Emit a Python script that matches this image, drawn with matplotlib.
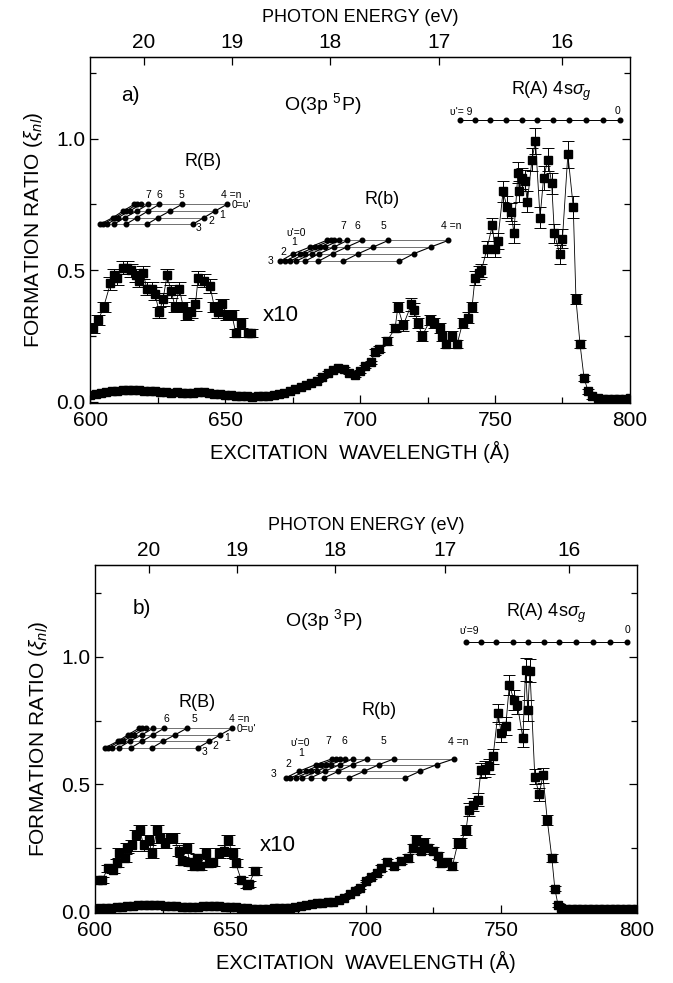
import numpy as np
import matplotlib.pyplot as plt

plt.rcParams['font.family'] = ['Liberation Sans', 'DejaVu Sans']
plt.rcParams['mathtext.fontset'] = 'custom'
plt.rcParams['mathtext.rm'] = 'Liberation Sans'
plt.rcParams['mathtext.it'] = 'Liberation Sans:italic'

HC = 12398.4  # eV*Angstrom

# ---------------- panel a) O(3p 5P) ----------------
wl_a = [600, 602, 604, 606, 608, 610, 612, 614, 616, 618, 620, 622, 624, 626, 628,
        630, 632, 634, 636, 638, 640, 642, 644, 646, 648, 650, 652, 654, 656, 658,
        660, 662, 664, 666, 668, 670, 672, 674, 676, 678, 680, 682, 684, 686, 688,
        690, 692, 694, 696, 698, 700, 702, 704,
        705.6, 707, 710, 713, 714, 716, 719, 720, 721.5, 723, 726, 727.5, 729.6, 730.5,
        732, 734, 736, 738, 740, 741.5, 742.6, 744, 745, 747, 749, 750, 751, 753,
        754.4, 756, 757, 758.5, 759, 760, 761, 762, 763.7, 765, 766.7, 768, 769.6,
        771, 772, 774, 775, 777, 779, 780, 781.5, 783, 784.5, 786, 788, 790, 792,
        794, 796, 798, 800]
ratio_a = [0.024, 0.03, 0.033, 0.036, 0.04, 0.042, 0.045, 0.046, 0.045, 0.044, 0.042,
           0.04, 0.04, 0.038, 0.036, 0.035, 0.036, 0.034, 0.032, 0.035, 0.038, 0.036,
           0.033, 0.03, 0.028, 0.026, 0.024, 0.022, 0.02, 0.02, 0.019, 0.02, 0.021,
           0.023, 0.026, 0.03, 0.034, 0.04, 0.047, 0.055, 0.062, 0.07, 0.08, 0.095,
           0.11, 0.12, 0.128, 0.125, 0.11, 0.10, 0.115, 0.135, 0.15,
           0.19, 0.20, 0.23, 0.28, 0.36, 0.29, 0.37, 0.35, 0.30, 0.25, 0.31, 0.30, 0.28,
           0.25, 0.22, 0.25, 0.22, 0.30, 0.32, 0.36, 0.47, 0.49, 0.50, 0.58, 0.67, 0.58,
           0.61, 0.80, 0.74, 0.72, 0.64, 0.87, 0.80, 0.85, 0.84, 0.76, 0.92, 0.99, 0.70,
           0.85, 0.92, 0.83, 0.64, 0.56, 0.62, 0.94, 0.74, 0.39, 0.22, 0.09, 0.04, 0.02,
           0.015, 0.012, 0.01, 0.01, 0.01, 0.012, 0.015]
err_a = [0.006] * 53 + [
         0.012, 0.012, 0.015, 0.015, 0.02, 0.02, 0.025, 0.025, 0.02, 0.02, 0.02, 0.02,
         0.02, 0.02, 0.015, 0.02, 0.015, 0.02, 0.02, 0.02, 0.025, 0.025, 0.025, 0.03,
         0.03, 0.03, 0.03, 0.04, 0.04, 0.035, 0.035, 0.04, 0.04, 0.04, 0.04, 0.04,
         0.045, 0.05, 0.04, 0.045, 0.045, 0.04, 0.035, 0.035, 0.035, 0.05, 0.04, 0.02,
         0.015, 0.01, 0.01, 0.008, 0.006, 0.006, 0.006, 0.006, 0.006, 0.006, 0.006]

wl10_a = [601, 603, 605, 607.5, 609, 610, 612, 613.5, 615, 617, 618, 619.6, 621, 623,
          624, 625.6, 627, 628.5, 630, 631.5, 633, 634.5, 636, 637.5, 639, 640, 642,
          644.4, 646, 647.5, 649, 650.6, 652.5, 654, 656, 658.5, 659.5]
ratio10_a = [0.28, 0.31, 0.36, 0.45, 0.48, 0.47, 0.51, 0.51, 0.50, 0.48, 0.46, 0.49,
             0.43, 0.43, 0.41, 0.34, 0.39, 0.48, 0.42, 0.36, 0.43, 0.36, 0.33, 0.34,
             0.37, 0.47, 0.46, 0.44, 0.36, 0.34, 0.37, 0.33, 0.33, 0.26, 0.30, 0.26, 0.26]
err10_a = [0.02, 0.02, 0.02, 0.025, 0.025, 0.025, 0.025, 0.025, 0.025, 0.025, 0.025,
           0.025, 0.025, 0.025, 0.025, 0.02, 0.025, 0.025, 0.025, 0.02, 0.025, 0.02,
           0.02, 0.02, 0.025, 0.025, 0.025, 0.025, 0.02, 0.02, 0.02, 0.02, 0.02, 0.015,
           0.02, 0.015, 0.015]

# ---------------- panel b) O(3p 3P) ----------------
wl_b = [600, 602, 604, 606, 608, 610, 612, 614, 616, 618, 620, 622, 624, 626, 628,
        630, 632, 634, 636, 638, 640, 642, 644, 646, 648, 650, 652, 654, 656, 658,
        660, 662, 664, 666, 668, 670, 672, 674, 676, 678, 680, 682, 684, 686, 688,
        690, 692, 694, 696, 698, 700, 702, 704,
        705.7, 708, 710.5, 713, 715.6, 717.5, 718.6, 720.4, 721.5, 723, 725, 726.7,
        727.8, 730, 732, 734, 735, 737, 738, 739.5, 741.4, 742.5, 744, 745.5, 747,
        748.8, 750, 751.7, 753, 754.7, 756, 758, 759, 759.8, 760.6, 762.4, 764, 765.4,
        767, 768.7, 769.8, 771, 772, 774, 776, 778, 780, 782, 784, 786, 788, 790, 792,
        794, 796, 798, 800]
ratio_b = [0.012, 0.013, 0.015, 0.016, 0.018, 0.02, 0.022, 0.024, 0.025, 0.026, 0.026,
           0.026, 0.025, 0.024, 0.022, 0.021, 0.02, 0.02, 0.02, 0.02, 0.021, 0.022,
           0.022, 0.021, 0.02, 0.019, 0.017, 0.015, 0.013, 0.012, 0.012, 0.012, 0.012,
           0.013, 0.013, 0.014, 0.016, 0.019, 0.022, 0.026, 0.03, 0.033, 0.035, 0.038,
           0.04, 0.045, 0.055, 0.07, 0.08, 0.095, 0.12, 0.135, 0.15,
           0.17, 0.195, 0.18, 0.20, 0.21, 0.25, 0.28, 0.24, 0.27, 0.25, 0.24, 0.22, 0.19,
           0.195, 0.18, 0.27, 0.27, 0.32, 0.40, 0.42, 0.44, 0.555, 0.56, 0.57, 0.61,
           0.78, 0.70, 0.73, 0.89, 0.83, 0.81, 0.68, 0.95, 0.79, 0.945, 0.53, 0.46,
           0.535, 0.36, 0.21, 0.09, 0.025, 0.015, 0.012, 0.011, 0.01, 0.01, 0.01, 0.01,
           0.01, 0.01, 0.01, 0.01, 0.01, 0.01, 0.01, 0.01]
err_b = [0.005] * 53 + [
         0.012, 0.012, 0.012, 0.012, 0.015, 0.015, 0.02, 0.015, 0.02, 0.015, 0.015,
         0.015, 0.015, 0.015, 0.015, 0.02, 0.02, 0.02, 0.025, 0.025, 0.025, 0.03, 0.03,
         0.03, 0.03, 0.035, 0.035, 0.035, 0.04, 0.04, 0.035, 0.035, 0.045, 0.04, 0.045,
         0.03, 0.025, 0.03, 0.02, 0.015, 0.01, 0.008, 0.006, 0.005, 0.005, 0.005, 0.005,
         0.005, 0.005, 0.005, 0.005, 0.005, 0.005, 0.005, 0.005, 0.005, 0.005]

wl10_b = [601, 602.5, 605, 606.5, 608, 609, 611, 612, 613.6, 615, 616.6, 618, 620, 621,
          623, 624, 626, 627.6, 629, 631, 632, 634, 635, 636.5, 637.6, 638.7, 641, 642,
          643.5, 645.7, 647.5, 649, 651, 652, 654, 656, 657, 659]
ratio10_b = [0.125, 0.125, 0.17, 0.165, 0.19, 0.23, 0.21, 0.25, 0.26, 0.30, 0.32,
             0.26, 0.28, 0.23, 0.32, 0.29, 0.27, 0.29, 0.29, 0.24, 0.20, 0.25, 0.195,
             0.18, 0.21, 0.18, 0.23, 0.19, 0.195, 0.23, 0.24, 0.28, 0.23, 0.19, 0.125,
             0.105, 0.11, 0.16]
err10_b = [0.012, 0.012, 0.015, 0.015, 0.015, 0.02, 0.015, 0.02, 0.02, 0.02, 0.02,
           0.02, 0.02, 0.02, 0.02, 0.02, 0.02, 0.02, 0.02, 0.02, 0.015, 0.02, 0.015,
           0.015, 0.015, 0.015, 0.02, 0.015, 0.015, 0.02, 0.02, 0.02, 0.02, 0.015,
           0.012, 0.012, 0.012, 0.015]

# ---------------- Rydberg ladders (wavelengths, A) ----------------
# R(B): rows v'=0..3, dots n=4,5,6,7,... (converging)
rb_B = [[650.7, 634.0, 625.6, 621.5, 618.9, 617.4, 616.3],
        [646.3, 629.6, 621.5, 617.4, 614.6, 613.3, 612.2],
        [642.2, 625.2, 617.4, 612.9, 610.4, 609.3, 608.5],
        [638.1, 621.1, 613.3, 608.9, 606.3, 604.8, 603.7]]
# R(b)
rb_b = [[732.7, 710.5, 700.6, 695.3, 692.3, 690.4, 689.1, 687.6],
        [726.2, 704.9, 695.1, 690.4, 687.0, 685.2, 683.3, 681.5],
        [720.0, 699.4, 689.9, 684.9, 682.1, 679.6, 677.8, 675.3],
        [714.6, 693.8, 684.6, 679.6, 676.3, 674.1, 672.2, 670.4]]
# R(A) 4s sigma_g, v'=9 ... 0
rb_A = [737.0, 742.7, 748.2, 754.2, 760.0, 765.7, 771.5, 777.6, 783.9, 790.0, 796.5]

LBL = 7.5  # ladder label size


def ladder(ax, rows, ys):
    for row, y in zip(rows, ys):
        ax.plot(row, [y] * len(row), '-', color='0.35', lw=0.6)
        ax.plot(row, [y] * len(row), 'o', color='k', ms=3.3)
    for j in range(len(rows[0])):
        ax.plot([r[j] for r in rows], ys, '-', color='k', lw=0.8)


def panel(ax, wl, r, e, wl10, r10, e10, ylim):
    ax.plot(wl, r, '-', color='k', lw=0.6)
    ax.errorbar(wl, r, yerr=e, fmt='s', color='k', ms=5.5, ecolor='k',
                elinewidth=0.7, capsize=4, capthick=0.7)
    ax.plot(wl10, r10, '-', color='k', lw=0.6)
    ax.errorbar(wl10, r10, yerr=e10, fmt='s', color='k', ms=6, ecolor='k',
                elinewidth=0.7, capsize=5, capthick=0.7)
    ax.set_xlim(600, 800)
    ax.set_ylim(*ylim)
    ax.set_xticks([600, 650, 700, 750, 800])
    ax.set_xticks([625, 675, 725, 775], minor=True)
    ax.set_yticks([0.0, 0.5, 1.0])
    ax.set_yticks([0.25, 0.75, 1.25], minor=True)
    ax.set_yticklabels(['0.0', '0.5', '1.0'])
    ax.tick_params(which='both', direction='in', right=True, labelsize=15)
    ax.tick_params(which='major', length=6, width=0.9)
    ax.tick_params(which='minor', length=4, width=0.9)
    ax.tick_params(axis='x', pad=5.5)
    ax.set_xlabel('EXCITATION  WAVELENGTH (Å)', fontsize=14.5, labelpad=8)
    ax.set_ylabel(r'FORMATION RATIO ($\xi_{nl}$)', fontsize=15, labelpad=8)
    top = ax.secondary_xaxis('top', functions=(lambda x: HC / x, lambda x: HC / x))
    top.set_xticks([20, 19, 18, 17, 16])
    top.tick_params(direction='in', length=6, width=0.9, labelsize=15)
    top.set_xlabel('PHOTON ENERGY (eV)', fontsize=13, labelpad=8)
    for s in ax.spines.values():
        s.set_linewidth(1.0)


fig = plt.figure(figsize=(6.73, 9.83), dpi=100)
ax1 = fig.add_axes([0.134, 0.590, 0.802, 0.352])
ax2 = fig.add_axes([0.141, 0.0712, 0.805, 0.354])

panel(ax1, wl_a, ratio_a, err_a, wl10_a, ratio10_a, err10_a, (-0.005, 1.31))
panel(ax2, wl_b, ratio_b, err_b, wl10_b, ratio10_b, err10_b, (-0.005, 1.36))

# ---- annotations panel a
ax1.text(615, 1.165, 'a)', fontsize=15, ha='center', va='center')
ax1.text(686, 1.13, r'O(3p $^5$P)', fontsize=14, ha='center', va='center')
ax1.text(642, 0.913, 'R(B)', fontsize=13, ha='center', va='center')
ax1.text(708, 0.77, 'R(b)', fontsize=13, ha='center', va='center')
ax1.text(771, 1.18, r'R(A) 4s$\sigma_g$', fontsize=13, ha='center', va='center')
ax1.text(670.7, 0.326, 'x10', fontsize=16, ha='center', va='center')

ladder(ax1, rb_B, [0.75, 0.725, 0.70, 0.675])
for t, x in zip(['7', '6', '5'], [621.5, 625.6, 634.0]):
    ax1.text(x, 0.785, t, fontsize=LBL, ha='center', va='center')
ax1.text(648.5, 0.785, '4 =n', fontsize=LBL, ha='left', va='center')
ax1.text(652.3, 0.748, "0=υ'", fontsize=LBL, ha='left', va='center')
for t, x, y in zip(['1', '2', '3'], [648.9, 645.0, 640.0], [0.71, 0.685, 0.66]):
    ax1.text(x, y, t, fontsize=LBL, ha='center', va='center')

ladder(ax1, rb_b, [0.613, 0.588, 0.563, 0.534])
ax1.text(680, 0.642, "υ'=0", fontsize=LBL, ha='right', va='center')
for t, x, y in zip(['1', '2', '3'], [675.5, 671.5, 666.7], [0.607, 0.569, 0.534]):
    ax1.text(x, y, t, fontsize=LBL, ha='center', va='center')
for t, x in zip(['7', '6', '5'], [693.7, 699.0, 708.5]):
    ax1.text(x, 0.668, t, fontsize=LBL, ha='center', va='center')
ax1.text(730, 0.666, '4 =n', fontsize=LBL, ha='left', va='center')

ax1.plot(rb_A, [1.072] * len(rb_A), '-', color='k', lw=0.7)
ax1.plot(rb_A, [1.072] * len(rb_A), 'o', color='k', ms=3.3)
ax1.text(733.5, 1.10, "υ'= 9", fontsize=LBL, ha='left', va='center')
ax1.text(795.5, 1.105, '0', fontsize=LBL, ha='center', va='center')

# ---- annotations panel b
ax2.text(617.3, 1.19, 'b)', fontsize=15, ha='center', va='center')
ax2.text(684.4, 1.145, r'O(3p $^3$P)', fontsize=14, ha='center', va='center')
ax2.text(637.6, 0.82, 'R(B)', fontsize=13, ha='center', va='center')
ax2.text(705, 0.79, 'R(b)', fontsize=13, ha='center', va='center')
ax2.text(766.5, 1.17, r'R(A) 4s$\sigma_g$', fontsize=13, ha='center', va='center')
ax2.text(667.4, 0.26, 'x10', fontsize=16, ha='center', va='center')

ladder(ax2, rb_B, [0.72, 0.694, 0.669, 0.643])
for t, x in zip(['6', '5'], [626.5, 636.8]):
    ax2.text(x, 0.757, t, fontsize=LBL, ha='center', va='center')
ax2.text(649.5, 0.757, '4 =n', fontsize=LBL, ha='left', va='center')
ax2.text(652.3, 0.715, "0=υ'", fontsize=LBL, ha='left', va='center')
for t, x, y in zip(['1', '2', '3'], [649.0, 644.6, 640.5], [0.68, 0.652, 0.627]):
    ax2.text(x, y, t, fontsize=LBL, ha='center', va='center')

ladder(ax2, rb_b, [0.60, 0.577, 0.551, 0.525])
ax2.text(679.5, 0.66, "υ'=0", fontsize=LBL, ha='right', va='center')
for t, x, y in zip(['1', '2', '3'], [676.0, 671.5, 666.0], [0.622, 0.58, 0.54]):
    ax2.text(x, y, t, fontsize=LBL, ha='center', va='center')
for t, x in zip(['7', '6', '5'], [686.0, 692.0, 706.5]):
    ax2.text(x, 0.668, t, fontsize=LBL, ha='center', va='center')
ax2.text(730.5, 0.666, '4 =n', fontsize=LBL, ha='left', va='center')

ax2.plot(rb_A, [1.06] * len(rb_A), '-', color='k', lw=0.7)
ax2.plot(rb_A, [1.06] * len(rb_A), 'o', color='k', ms=3.3)
ax2.text(734.5, 1.10, "υ'=9", fontsize=LBL, ha='left', va='center')
ax2.text(796.5, 1.105, '0', fontsize=LBL, ha='center', va='center')

fig.savefig('out.png', dpi=100)
